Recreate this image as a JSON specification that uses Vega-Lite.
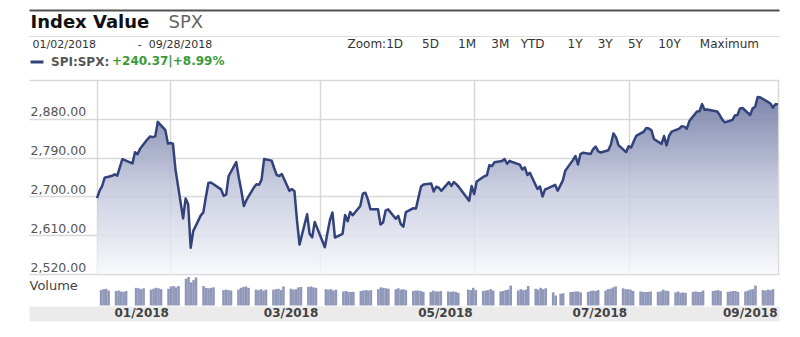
{
  "$schema": "https://vega.github.io/schema/vega-lite/v6.json",
  "width": 750,
  "height": 241,
  "autosize": {"type": "none"},
  "padding": {"left": 29, "top": 80, "right": 21, "bottom": 16},
  "background": "white",
  "data": {"values": [
    {"date":"2018-01-02","close":2695.81,"volume":3.4},
    {"date":"2018-01-03","close":2713.06,"volume":3.6},
    {"date":"2018-01-04","close":2723.99,"volume":3.7},
    {"date":"2018-01-05","close":2743.15,"volume":3.3},
    {"date":"2018-01-08","close":2747.71,"volume":3.2},
    {"date":"2018-01-09","close":2751.29,"volume":3.3},
    {"date":"2018-01-10","close":2748.23,"volume":3.1},
    {"date":"2018-01-11","close":2767.56,"volume":3.0},
    {"date":"2018-01-12","close":2786.24,"volume":3.2},
    {"date":"2018-01-16","close":2776.42,"volume":3.9},
    {"date":"2018-01-17","close":2802.56,"volume":3.8},
    {"date":"2018-01-18","close":2798.03,"volume":3.6},
    {"date":"2018-01-19","close":2810.30,"volume":3.8},
    {"date":"2018-01-22","close":2832.97,"volume":3.5},
    {"date":"2018-01-23","close":2839.13,"volume":3.7},
    {"date":"2018-01-24","close":2837.54,"volume":3.9},
    {"date":"2018-01-25","close":2839.25,"volume":3.8},
    {"date":"2018-01-26","close":2872.87,"volume":3.6},
    {"date":"2018-01-29","close":2853.53,"volume":3.7},
    {"date":"2018-01-30","close":2822.43,"volume":4.2},
    {"date":"2018-01-31","close":2823.81,"volume":4.3},
    {"date":"2018-02-01","close":2821.98,"volume":4.0},
    {"date":"2018-02-02","close":2762.13,"volume":4.3},
    {"date":"2018-02-05","close":2648.94,"volume":5.9},
    {"date":"2018-02-06","close":2695.14,"volume":6.3},
    {"date":"2018-02-07","close":2681.66,"volume":5.1},
    {"date":"2018-02-08","close":2581.00,"volume":5.6},
    {"date":"2018-02-09","close":2619.55,"volume":6.2},
    {"date":"2018-02-12","close":2656.00,"volume":4.3},
    {"date":"2018-02-13","close":2662.94,"volume":3.9},
    {"date":"2018-02-14","close":2698.63,"volume":3.8},
    {"date":"2018-02-15","close":2731.20,"volume":3.9},
    {"date":"2018-02-16","close":2732.22,"volume":4.0},
    {"date":"2018-02-20","close":2716.26,"volume":3.4},
    {"date":"2018-02-21","close":2701.33,"volume":3.5},
    {"date":"2018-02-22","close":2703.96,"volume":3.4},
    {"date":"2018-02-23","close":2747.30,"volume":3.3},
    {"date":"2018-02-26","close":2779.60,"volume":3.5},
    {"date":"2018-02-27","close":2744.28,"volume":3.9},
    {"date":"2018-02-28","close":2713.83,"volume":4.1},
    {"date":"2018-03-01","close":2677.67,"volume":4.2},
    {"date":"2018-03-02","close":2691.25,"volume":3.9},
    {"date":"2018-03-05","close":2720.94,"volume":3.5},
    {"date":"2018-03-06","close":2728.12,"volume":3.4},
    {"date":"2018-03-07","close":2726.80,"volume":3.6},
    {"date":"2018-03-08","close":2738.97,"volume":3.3},
    {"date":"2018-03-09","close":2786.57,"volume":3.5},
    {"date":"2018-03-12","close":2783.02,"volume":3.5},
    {"date":"2018-03-13","close":2765.31,"volume":3.6},
    {"date":"2018-03-14","close":2749.48,"volume":3.7},
    {"date":"2018-03-15","close":2747.33,"volume":3.4},
    {"date":"2018-03-16","close":2752.01,"volume":4.2},
    {"date":"2018-03-19","close":2712.92,"volume":3.7},
    {"date":"2018-03-20","close":2716.94,"volume":3.5},
    {"date":"2018-03-21","close":2711.93,"volume":3.6},
    {"date":"2018-03-22","close":2643.69,"volume":4.0},
    {"date":"2018-03-23","close":2588.26,"volume":4.1},
    {"date":"2018-03-26","close":2658.55,"volume":4.1},
    {"date":"2018-03-27","close":2612.62,"volume":4.2},
    {"date":"2018-03-28","close":2605.00,"volume":4.0},
    {"date":"2018-03-29","close":2640.87,"volume":3.9},
    {"date":"2018-04-02","close":2581.88,"volume":3.6},
    {"date":"2018-04-03","close":2614.45,"volume":3.5},
    {"date":"2018-04-04","close":2644.69,"volume":3.6},
    {"date":"2018-04-05","close":2662.84,"volume":3.3},
    {"date":"2018-04-06","close":2604.47,"volume":3.5},
    {"date":"2018-04-09","close":2613.16,"volume":3.1},
    {"date":"2018-04-10","close":2656.87,"volume":3.2},
    {"date":"2018-04-11","close":2642.19,"volume":3.0},
    {"date":"2018-04-12","close":2663.99,"volume":3.0},
    {"date":"2018-04-13","close":2656.30,"volume":3.0},
    {"date":"2018-04-16","close":2677.84,"volume":3.2},
    {"date":"2018-04-17","close":2706.39,"volume":3.3},
    {"date":"2018-04-18","close":2708.64,"volume":3.4},
    {"date":"2018-04-19","close":2693.13,"volume":3.3},
    {"date":"2018-04-20","close":2670.14,"volume":3.4},
    {"date":"2018-04-23","close":2670.29,"volume":3.6},
    {"date":"2018-04-24","close":2634.56,"volume":4.0},
    {"date":"2018-04-25","close":2639.40,"volume":3.9},
    {"date":"2018-04-26","close":2666.94,"volume":3.8},
    {"date":"2018-04-27","close":2669.91,"volume":3.7},
    {"date":"2018-04-30","close":2648.05,"volume":3.6},
    {"date":"2018-05-01","close":2654.80,"volume":3.8},
    {"date":"2018-05-02","close":2635.67,"volume":3.5},
    {"date":"2018-05-03","close":2629.73,"volume":3.6},
    {"date":"2018-05-04","close":2663.42,"volume":3.4},
    {"date":"2018-05-07","close":2672.63,"volume":3.2},
    {"date":"2018-05-08","close":2671.92,"volume":3.3},
    {"date":"2018-05-09","close":2697.79,"volume":3.3},
    {"date":"2018-05-10","close":2723.07,"volume":3.2},
    {"date":"2018-05-11","close":2727.72,"volume":3.0},
    {"date":"2018-05-14","close":2730.13,"volume":3.0},
    {"date":"2018-05-15","close":2711.45,"volume":3.3},
    {"date":"2018-05-16","close":2722.46,"volume":3.1},
    {"date":"2018-05-17","close":2720.13,"volume":3.1},
    {"date":"2018-05-18","close":2712.97,"volume":3.2},
    {"date":"2018-05-21","close":2733.01,"volume":3.1},
    {"date":"2018-05-22","close":2724.44,"volume":3.0},
    {"date":"2018-05-23","close":2733.29,"volume":3.1},
    {"date":"2018-05-24","close":2727.76,"volume":3.0},
    {"date":"2018-05-25","close":2721.33,"volume":2.8},
    {"date":"2018-05-29","close":2689.86,"volume":3.5},
    {"date":"2018-05-30","close":2724.01,"volume":3.4},
    {"date":"2018-05-31","close":2705.27,"volume":3.9},
    {"date":"2018-06-01","close":2734.62,"volume":3.4},
    {"date":"2018-06-04","close":2746.87,"volume":3.2},
    {"date":"2018-06-05","close":2748.80,"volume":3.3},
    {"date":"2018-06-06","close":2772.35,"volume":3.4},
    {"date":"2018-06-07","close":2770.37,"volume":3.6},
    {"date":"2018-06-08","close":2779.03,"volume":3.3},
    {"date":"2018-06-11","close":2782.00,"volume":3.1},
    {"date":"2018-06-12","close":2786.85,"volume":3.2},
    {"date":"2018-06-13","close":2775.63,"volume":3.4},
    {"date":"2018-06-14","close":2782.49,"volume":3.5},
    {"date":"2018-06-15","close":2779.66,"volume":4.4},
    {"date":"2018-06-18","close":2773.75,"volume":3.3},
    {"date":"2018-06-19","close":2762.59,"volume":3.6},
    {"date":"2018-06-20","close":2767.32,"volume":3.4},
    {"date":"2018-06-21","close":2749.76,"volume":3.5},
    {"date":"2018-06-22","close":2754.88,"volume":4.3},
    {"date":"2018-06-25","close":2717.07,"volume":3.7},
    {"date":"2018-06-26","close":2723.06,"volume":3.5},
    {"date":"2018-06-27","close":2699.63,"volume":3.9},
    {"date":"2018-06-28","close":2716.31,"volume":3.6},
    {"date":"2018-06-29","close":2718.37,"volume":3.8},
    {"date":"2018-07-02","close":2726.71,"volume":2.9},
    {"date":"2018-07-03","close":2713.22,"volume":2.2},
    {"date":"2018-07-05","close":2736.61,"volume":2.6},
    {"date":"2018-07-06","close":2759.82,"volume":2.7},
    {"date":"2018-07-09","close":2784.17,"volume":3.0},
    {"date":"2018-07-10","close":2793.84,"volume":3.0},
    {"date":"2018-07-11","close":2774.02,"volume":3.1},
    {"date":"2018-07-12","close":2798.29,"volume":3.1},
    {"date":"2018-07-13","close":2801.31,"volume":2.9},
    {"date":"2018-07-16","close":2798.43,"volume":3.0},
    {"date":"2018-07-17","close":2809.55,"volume":3.2},
    {"date":"2018-07-18","close":2815.62,"volume":3.3},
    {"date":"2018-07-19","close":2804.49,"volume":3.2},
    {"date":"2018-07-20","close":2801.83,"volume":3.4},
    {"date":"2018-07-23","close":2806.98,"volume":3.3},
    {"date":"2018-07-24","close":2820.40,"volume":3.6},
    {"date":"2018-07-25","close":2846.07,"volume":3.7},
    {"date":"2018-07-26","close":2837.44,"volume":4.0},
    {"date":"2018-07-27","close":2818.82,"volume":4.2},
    {"date":"2018-07-30","close":2802.60,"volume":3.8},
    {"date":"2018-07-31","close":2816.29,"volume":3.6},
    {"date":"2018-08-01","close":2813.36,"volume":3.6},
    {"date":"2018-08-02","close":2827.22,"volume":3.5},
    {"date":"2018-08-03","close":2840.35,"volume":3.2},
    {"date":"2018-08-06","close":2850.40,"volume":3.1},
    {"date":"2018-08-07","close":2858.45,"volume":3.0},
    {"date":"2018-08-08","close":2857.70,"volume":3.0},
    {"date":"2018-08-09","close":2853.58,"volume":3.0},
    {"date":"2018-08-10","close":2833.28,"volume":3.1},
    {"date":"2018-08-13","close":2821.93,"volume":3.0},
    {"date":"2018-08-14","close":2839.96,"volume":3.1},
    {"date":"2018-08-15","close":2818.37,"volume":3.5},
    {"date":"2018-08-16","close":2840.69,"volume":3.3},
    {"date":"2018-08-17","close":2850.13,"volume":3.2},
    {"date":"2018-08-20","close":2857.05,"volume":2.9},
    {"date":"2018-08-21","close":2862.96,"volume":3.1},
    {"date":"2018-08-22","close":2861.82,"volume":2.8},
    {"date":"2018-08-23","close":2856.98,"volume":2.9},
    {"date":"2018-08-24","close":2874.69,"volume":2.8},
    {"date":"2018-08-27","close":2896.74,"volume":3.0},
    {"date":"2018-08-28","close":2897.52,"volume":3.1},
    {"date":"2018-08-29","close":2914.04,"volume":3.0},
    {"date":"2018-08-30","close":2901.13,"volume":3.0},
    {"date":"2018-08-31","close":2901.52,"volume":3.3},
    {"date":"2018-09-04","close":2896.72,"volume":3.2},
    {"date":"2018-09-05","close":2888.60,"volume":3.3},
    {"date":"2018-09-06","close":2878.05,"volume":3.4},
    {"date":"2018-09-07","close":2871.68,"volume":3.2},
    {"date":"2018-09-10","close":2877.13,"volume":3.0},
    {"date":"2018-09-11","close":2887.89,"volume":3.1},
    {"date":"2018-09-12","close":2888.92,"volume":3.2},
    {"date":"2018-09-13","close":2904.18,"volume":3.2},
    {"date":"2018-09-14","close":2904.98,"volume":3.0},
    {"date":"2018-09-17","close":2888.80,"volume":3.1},
    {"date":"2018-09-18","close":2904.31,"volume":3.3},
    {"date":"2018-09-19","close":2907.95,"volume":3.5},
    {"date":"2018-09-20","close":2930.75,"volume":3.6},
    {"date":"2018-09-21","close":2929.67,"volume":4.4},
    {"date":"2018-09-24","close":2919.37,"volume":3.4},
    {"date":"2018-09-25","close":2915.56,"volume":3.3},
    {"date":"2018-09-26","close":2905.97,"volume":3.5},
    {"date":"2018-09-27","close":2914.00,"volume":3.4},
    {"date":"2018-09-28","close":2913.98,"volume":3.6}
  ]},
  "layer": [
    {
      "mark": {
        "type": "area",
        "opacity": 0.85,
        "color": {
          "gradient": "linear", "x1": 0, "y1": 0, "x2": 0, "y2": 1,
          "stops": [
            {"offset": 0, "color": "#68729e"},
            {"offset": 0.5, "color": "#bfc4da"},
            {"offset": 1, "color": "#f7f8fb"}
          ]
        }
      },
      "encoding": {
        "x": {
          "field": "date", "type": "temporal",
          "scale": {"type": "utc", "nice": false, "domain": [
            {"year": 2017, "month": 12, "date": 6, "hours": 3, "utc": true},
            {"year": 2018, "month": 9, "date": 28, "hours": 10, "utc": true}
          ]},
          "axis": {
            "orient": "top",
            "offset": 44,
            "values": [
              {"year": 2018, "month": 1, "date": 2, "utc": true},
              {"year": 2018, "month": 1, "date": 31, "utc": true},
              {"year": 2018, "month": 3, "date": 31, "utc": true},
              {"year": 2018, "month": 5, "date": 31, "utc": true},
              {"year": 2018, "month": 7, "date": 31, "utc": true},
              {"year": 2018, "month": 9, "date": 28, "utc": true}
            ],
            "grid": true, "gridColor": "#d9d9d9", "gridWidth": 1.5,
            "labels": false, "ticks": false,
            "domain": true, "domainColor": "#dddddd", "domainWidth": 1,
            "title": "01/02/2018\u00a0\u00a0\u00a0\u00a0\u00a0\u00a0\u00a0\u00a0\u00a0\u00a0\u00a0\u00a0-\u00a0\u00a009/28/2018",
            "titleX": 3, "titleY": 11.5, "titleAlign": "left", "titleAnchor": null, "titleBaseline": "alphabetic", "titleAngle": 0,
            "titleFontSize": 11, "titleFontWeight": "normal", "titleColor": "#333333", "titleLimit": 1000
          }
        },
        "y": {
          "field": "close", "type": "quantitative",
          "scale": {"domain": [2520, 2970], "range": [194, 0], "nice": false, "zero": false},
          "axis": {
            "orient": "left",
            "values": [2520, 2610, 2700, 2790, 2880, 2970],
            "labelExpr": "datum.value > 2900 ? '' : format(datum.value, ',.2f')",
            "labelAlign": "left", "labelBaseline": "bottom", "labelPadding": -1,
            "labelFontSize": 12.5, "labelColor": "#555555",
            "ticks": false, "tickSize": 0, "domain": false,
            "grid": true, "gridColor": "#d9d9d9", "gridWidth": 1.5,
            "title": "Index Value",
            "titleX": 1, "titleY": -53, "titleAlign": "left", "titleAnchor": null, "titleBaseline": "alphabetic", "titleAngle": 0,
            "titleFontSize": 18, "titleFontWeight": "bold", "titleColor": "#111111", "titleLimit": 1000
          }
        },
        "y2": {"datum": 2520}
      }
    },
    {
      "mark": {"type": "line", "strokeWidth": 2.5, "strokeJoin": "round"},
      "encoding": {
        "x": {
          "field": "date", "type": "temporal",
          "scale": {"type": "utc", "nice": false, "domain": [
            {"year": 2017, "month": 12, "date": 6, "hours": 3, "utc": true},
            {"year": 2018, "month": 9, "date": 28, "hours": 10, "utc": true}
          ]},
          "axis": {
            "orient": "bottom",
            "values": [
              {"year": 2018, "month": 1, "date": 31, "utc": true},
              {"year": 2018, "month": 3, "date": 31, "utc": true},
              {"year": 2018, "month": 5, "date": 31, "utc": true},
              {"year": 2018, "month": 7, "date": 31, "utc": true},
              {"year": 2018, "month": 9, "date": 28, "hours": 10, "utc": true}
            ],
            "labelExpr": "utcFormat(datum.value, '%m/%Y')",
            "grid": false, "ticks": false, "tickSize": 0,
            "domain": true, "domainColor": "#000000", "domainOpacity": 0.08, "domainWidth": 15, "offset": -7.5,
            "labelAlign": "right", "labelBaseline": "middle", "labelPadding": -1.5, "labelOffset": -2,
            "labelFlush": false, "labelOverlap": false,
            "labelFontSize": 12, "labelFontWeight": "bold", "labelColor": "#484848",
            "title": null
          }
        },
        "y": {
          "field": "close", "type": "quantitative",
          "scale": {"domain": [2520, 2970], "range": [194, 0], "nice": false, "zero": false},
          "axis": {
            "orient": "left",
            "labels": false, "ticks": false, "domain": false, "grid": false,
            "title": "SPX",
            "titleX": 139, "titleY": -53, "titleAlign": "left", "titleAnchor": null, "titleBaseline": "alphabetic", "titleAngle": 0,
            "titleFontSize": 18, "titleFontWeight": "normal", "titleColor": "#666666", "titleLimit": 1000
          }
        },
        "color": {
          "datum": "SPI:SPX:", "type": "nominal",
          "scale": {"range": ["#33427a"]},
          "legend": {
            "orient": "none", "legendX": 0, "legendY": -26,
            "title": "+240.37|+8.99%", "titleOrient": "right", "titlePadding": 3,
            "titleColor": "#3a9a3a", "titleFontSize": 12, "titleFontWeight": "bold",
            "labelColor": "#555555", "labelFontSize": 12, "labelFontWeight": "bold",
            "symbolType": "stroke", "symbolSize": 169, "symbolStrokeWidth": 3,
            "labelOffset": 6, "padding": 0
          }
        }
      }
    },
    {
      "mark": {"type": "bar", "size": 2.6, "color": "#9098b9"},
      "encoding": {
        "x": {
          "field": "date", "type": "temporal",
          "scale": {"type": "utc", "nice": false, "domain": [
            {"year": 2017, "month": 12, "date": 6, "hours": 3, "utc": true},
            {"year": 2018, "month": 9, "date": 28, "hours": 10, "utc": true}
          ]},
          "axis": {
            "orient": "top",
            "offset": 70,
            "labels": false, "ticks": false, "grid": false,
            "domain": true, "domainColor": "#505050", "domainWidth": 2,
            "title": "Zoom:1D\u00a0\u00a0\u00a0\u00a0\u00a05D\u00a0\u00a0\u00a0\u00a0\u00a01M\u00a0\u00a0\u00a0\u00a03M\u00a0\u00a0\u00a0YTD\u00a0\u00a0\u00a0\u00a0\u00a0\u00a01Y\u00a0\u00a0\u00a0\u00a03Y\u00a0\u00a0\u00a0\u00a05Y\u00a0\u00a0\u00a0\u00a010Y\u00a0\u00a0\u00a0\u00a0\u00a0Maximum",
            "titleX": 318, "titleY": 37, "titleAlign": "left", "titleAnchor": null, "titleBaseline": "alphabetic", "titleAngle": 0,
            "titleFontSize": 12, "titleFontWeight": "normal", "titleColor": "#333333", "titleLimit": 1000
          }
        },
        "y": {
          "field": "volume", "type": "quantitative",
          "scale": {"domain": [0, 6.4], "range": [225.5, 196.5], "nice": false},
          "axis": {
            "orient": "left",
            "labels": false, "ticks": false, "domain": false, "grid": false,
            "title": "Volume",
            "titleX": 0, "titleY": 205, "titleAlign": "left", "titleAnchor": null, "titleBaseline": "middle", "titleAngle": 0,
            "titleFontSize": 13, "titleFontWeight": "normal", "titleColor": "#444444", "titleLimit": 1000
          }
        }
      }
    }
  ],
  "resolve": {
    "scale": {"x": "independent", "y": "independent"},
    "axis": {"x": "independent", "y": "independent"}
  },
  "config": {
    "font": "DejaVu Sans",
    "view": {"stroke": null},
    "axis": {"labelFont": "DejaVu Sans", "titleFont": "DejaVu Sans"},
    "legend": {"labelFont": "DejaVu Sans", "titleFont": "DejaVu Sans"}
  }
}
